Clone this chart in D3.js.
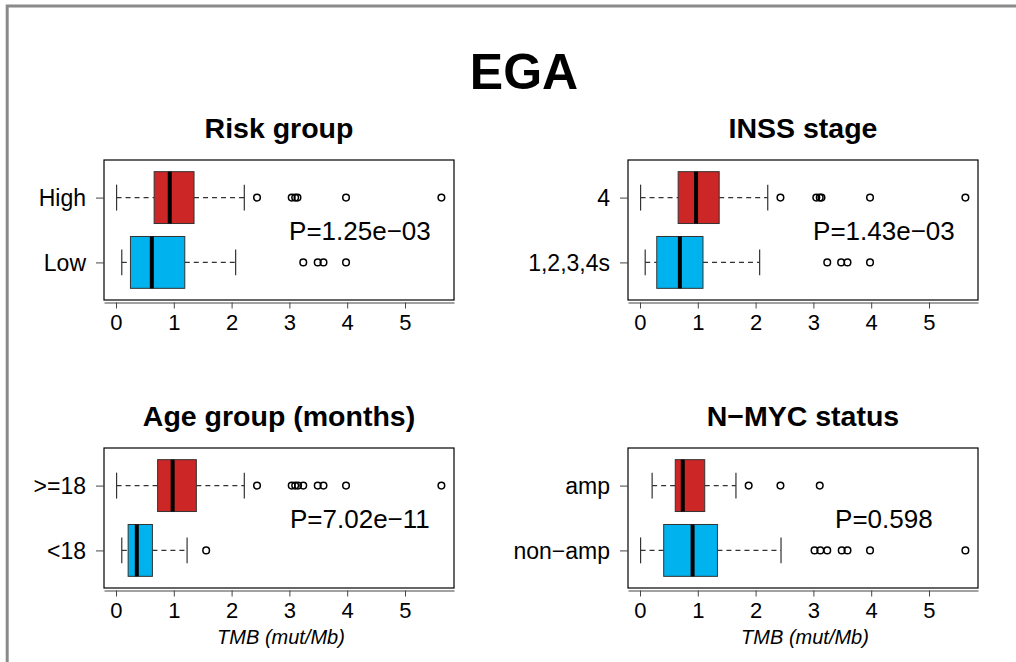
<!DOCTYPE html>
<html>
<head>
<meta charset="utf-8">
<script src="https://cdn.jsdelivr.net/npm/d3@7"></script>
<style>
  html, body { margin: 0; background: #fff; overflow: hidden; }
  svg { display: block; font-family: "Liberation Sans", Arial, Helvetica, sans-serif; }
</style>
</head>
<body>
<div id="chart"></div>
<script>
// Panel titles and group names (top row first)
var panelTitles = ["Risk group", "INSS stage", "Age group (months)", "N\u2212MYC status"];
var groupNames = [
  ["High", "Low"],
  ["4", "1,2,3,4s"],
  [">=18", "<18"],
  ["amp", "non\u2212amp"]
];

// Box stats per group: [lower whisker, Q1, median, Q3, upper whisker]
var riskStats = [[0.01, 0.66, 0.93, 1.35, 2.22], [0.10, 0.25, 0.62, 1.19, 2.07]];
var inssStats = [[0.01, 0.66, 0.97, 1.37, 2.21], [0.09, 0.29, 0.69, 1.09, 2.07]];
var ageStats = [[0.01, 0.72, 0.98, 1.39, 2.22], [0.10, 0.21, 0.36, 0.63, 1.23]];
var mycStats = [[0.21, 0.61, 0.74, 1.12, 1.66], [0.01, 0.41, 0.91, 1.34, 2.44]];

// Outlier points per group
var riskOutliers = [[2.44, 3.04, 3.10, 3.14, 3.98, 5.63], [3.24, 3.49, 3.59, 3.98]];
var inssOutliers = [[2.43, 3.05, 3.11, 3.14, 3.98, 5.63], [3.24, 3.48, 3.59, 3.98]];
var ageOutliers = [[2.44, 3.04, 3.10, 3.15, 3.24, 3.49, 3.59, 3.98, 5.63], [1.56]];
var mycOutliers = [[1.88, 2.43, 3.11], [3.02, 3.12, 3.24, 3.49, 3.59, 3.98, 5.63]];

var pLabels = ["P=1.25e\u221203", "P=1.43e\u221203", "P=7.02e\u221211", "P=0.598"];
var xTicks = [0, 1, 2, 3, 4, 5];
var xLabel = "TMB (mut/Mb)";

var boxColors = ["#CD2626", "#00B2EE"];

var width = 1016;
var height = 662;

var svg = d3.select("#chart")
  .append("svg")
  .attr("width", width)
  .attr("height", height);

// Grey frame round the figure (open at right and bottom)
svg.append("path")
  .attr("d", "M7.2," + height + "V6H" + width)
  .attr("fill", "none")
  .attr("stroke", "#8a8a8a")
  .attr("stroke-width", 3);

// Main title
svg.append("text")
  .attr("x", 524)
  .attr("y", 89)
  .attr("text-anchor", "middle")
  .style("font-size", "50px")
  .style("font-weight", "bold")
  .text("EGA");

var panels = [
  { stats: riskStats, outliers: riskOutliers, x: 104, y: 160, xlab: false },
  { stats: inssStats, outliers: inssOutliers, x: 628, y: 160, xlab: false },
  { stats: ageStats, outliers: ageOutliers, x: 104, y: 448, xlab: true },
  { stats: mycStats, outliers: mycOutliers, x: 628, y: 448, xlab: true }
];

var plotW = 350;
var plotH = 140;

panels.forEach(function (p, i) {
  var g = svg.append("g").attr("transform", "translate(" + p.x + "," + p.y + ")");

  var x = d3.scaleLinear().domain([-0.2076, 5.848]).range([0, plotW]);
  var y = d3.scalePoint().domain(groupNames[i]).range([0, plotH]).padding(0.58);
  var boxH = y.step() * 0.8;

  // Panel title
  g.append("text")
    .attr("x", plotW / 2)
    .attr("y", -22)
    .attr("text-anchor", "middle")
    .style("font-size", "28.5px")
    .style("font-weight", "bold")
    .text(panelTitles[i]);

  var rows = g.selectAll("g.row")
    .data(p.stats)
    .enter()
    .append("g")
    .attr("class", "row")
    .attr("transform", function (d, j) { return "translate(0," + y(groupNames[i][j]) + ")"; });

  // Dashed whiskers
  rows.append("line")
    .attr("x1", function (d) { return x(d[0]); })
    .attr("x2", function (d) { return x(d[1]); })
    .attr("stroke", "#333")
    .attr("stroke-width", 1.2)
    .attr("stroke-dasharray", "5,4");
  rows.append("line")
    .attr("x1", function (d) { return x(d[3]); })
    .attr("x2", function (d) { return x(d[4]); })
    .attr("stroke", "#333")
    .attr("stroke-width", 1.2)
    .attr("stroke-dasharray", "5,4");

  // Whisker ends
  rows.selectAll("line.cap")
    .data(function (d) { return [d[0], d[4]]; })
    .enter()
    .append("line")
    .attr("class", "cap")
    .attr("x1", function (v) { return x(v); })
    .attr("x2", function (v) { return x(v); })
    .attr("y1", -boxH / 4)
    .attr("y2", boxH / 4)
    .attr("stroke", "#333")
    .attr("stroke-width", 1.2);

  // Boxes
  rows.append("rect")
    .attr("x", function (d) { return x(d[1]); })
    .attr("y", -boxH / 2)
    .attr("width", function (d) { return x(d[3]) - x(d[1]); })
    .attr("height", boxH)
    .attr("fill", function (d, j) { return boxColors[j]; })
    .attr("stroke", "#333")
    .attr("stroke-width", 1);

  // Median
  rows.append("line")
    .attr("x1", function (d) { return x(d[2]); })
    .attr("x2", function (d) { return x(d[2]); })
    .attr("y1", -boxH / 2)
    .attr("y2", boxH / 2)
    .attr("stroke", "#000")
    .attr("stroke-width", 4);

  // Outliers
  rows.each(function (d, j) {
    d3.select(this).selectAll("circle")
      .data(p.outliers[j])
      .enter()
      .append("circle")
      .attr("cx", function (v) { return x(v); })
      .attr("cy", 0)
      .attr("r", 3.3)
      .attr("fill", "none")
      .attr("stroke", "#000")
      .attr("stroke-width", 1.5);
  });

  // Plot border
  g.append("rect")
    .attr("width", plotW)
    .attr("height", plotH)
    .attr("fill", "none")
    .attr("stroke", "#000")
    .attr("stroke-width", 1.2);

  // x axis
  var xAxis = g.append("g")
    .attr("transform", "translate(0," + (plotH + 2.5) + ")")
    .call(d3.axisBottom(x).tickValues(xTicks).tickFormat(d3.format("d"))
      .tickSize(6).tickSizeOuter(0).tickPadding(6));
  xAxis.select(".domain").attr("stroke", "#444");
  xAxis.selectAll(".tick line").attr("stroke", "#444");
  xAxis.selectAll("text")
    .attr("fill", "#000")
    .style("font-size", "22px")
    .style("font-family", "Liberation Sans, Arial, sans-serif");

  // y axis
  var yAxis = g.append("g")
    .call(d3.axisLeft(y).tickSize(8).tickPadding(10));
  yAxis.select(".domain").remove();
  yAxis.selectAll(".tick line").attr("stroke", "#444");
  yAxis.selectAll("text")
    .attr("fill", "#000")
    .attr("dy", "0.36em")
    .style("font-size", "23px")
    .style("font-family", "Liberation Sans, Arial, sans-serif");

  // P value
  g.append("text")
    .attr("x", x(4.22))
    .attr("y", plotH / 2 + 9.5)
    .attr("text-anchor", "middle")
    .style("font-size", "26px")
    .text(pLabels[i]);

  if (p.xlab) {
    g.append("text")
      .attr("x", plotW / 2 + 2)
      .attr("y", plotH + 56)
      .attr("text-anchor", "middle")
      .style("font-size", "20px")
      .style("font-style", "italic")
      .text(xLabel);
  }
});
</script>
</body>
</html>
